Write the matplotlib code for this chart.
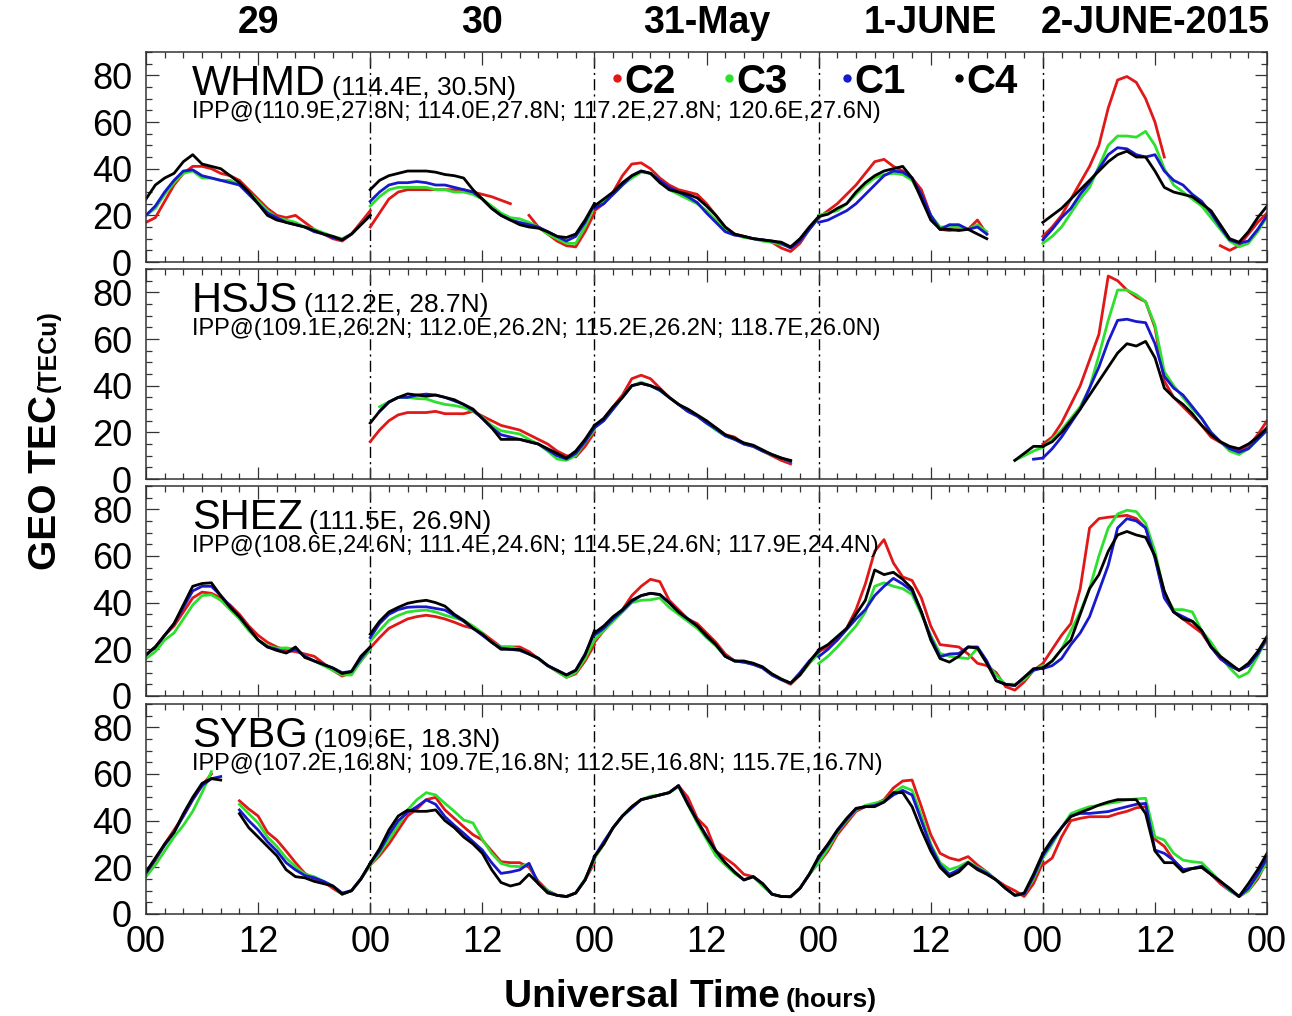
import numpy as np
import matplotlib
matplotlib.use("Agg")
import matplotlib.pyplot as plt
from matplotlib.ticker import MultipleLocator, FixedLocator
from matplotlib.transforms import offset_copy, blended_transform_factory

plt.rcParams["font.family"] = ["Liberation Sans", "DejaVu Sans"]

# ------------------------------------------------------------
# Data (GEO TEC, TECu), one row per UT day,
# sampled hourly 00..24 of that day; None = no data
# ------------------------------------------------------------
N = None
HOURS = np.arange(25)
DAY_LABELS = ["29", "30", "31-May", "1-JUNE", "2-JUNE-2015"]
TICK_LABELS = ["00", "12"] * 5 + ["00"]

STATIONS = ["WHMD", "HSJS", "SHEZ", "SYBG"]
COORDS = ["(114.4E, 30.5N)", "(112.2E, 28.7N)", "(111.5E, 26.9N)", "(109.6E, 18.3N)"]
IPP = [
    "IPP@(110.9E,27.8N; 114.0E,27.8N; 117.2E,27.8N; 120.6E,27.6N)",
    "IPP@(109.1E,26.2N; 112.0E,26.2N; 115.2E,26.2N; 118.7E,26.0N)",
    "IPP@(108.6E,24.6N; 111.4E,24.6N; 114.5E,24.6N; 117.9E,24.4N)",
    "IPP@(107.2E,16.8N; 109.7E,16.8N; 112.5E,16.8N; 115.7E,16.7N)",
]

# --- WHMD ---
WHMD_C2 = [
    [17, 19, 26, 33, 38, 41, 41, 40, 38, 37, 35, 31, 27, 23, 20, 19, 20, 17, 14, 12, 10, 9, 12, 17, 22],
    [15, 21, 27, 30, 31, 31, 31, 31, 31, 31, 31, 30, 29, 28, 26.5, 25, N, 20, 15, 12, 9, 7, 6.5, 13, 21],
    [22, 25, 30, 37, 42, 42.5, 40, 36, 33, 31, 30, 29, 25, 20, 15, 12, 11, 10, 9.5, 8.5, 6, 4.5, 8, 14, 19],
    [19, 22, 25, 29, 33, 38, 43, 44, 41, 39, 36, 31, 20, 14, 13.5, 14, 14, 18, 12, N, N, N, N, N, N],
    [11, 15, 20, 27, 34, 41, 50, 66, 78, 79.5, 77, 70, 60, 45, N, N, N, N, N, 7, 5, 7, 12, 17, 21],
]
WHMD_C3 = [
    [20, 23, 29, 34, 38, 39, 36, 36, 35, 35, 33, 30, 26, 22, 19, 18, 17, 15, 14, 12.5, 11, 10, 12, 16, 20],
    [24, 28, 31, 32, 32, 32, 32, 31, 31, 30, 30, 29, 27, 24, 21, 19, 18.5, 17, 15, 12, 10, 8, 8, 15, 24],
    [23, 26, 29, 33, 36, 38.5, 38, 35, 31, 29, 27, 25, 22, 18, 14, 12, 10.5, 10, 9, 8.5, 7.5, 6.5, 9, 14, 19],
    [20, 21, 22, 25, 29, 33, 36, 37.5, 38, 37.5, 35, 28, 20, 15, 15, 15, 14, 16, 13, N, N, N, N, N, N],
    [8, 11, 15, 21, 27, 32, 41, 50, 54, 54, 53.5, 56, 50, 40, 33, 30, 27, 24, 19, 14, 9, 6.5, 8, 13, 19.5],
]
WHMD_C1 = [
    [20, 24, 30, 35, 39, 39.5, 37, 36, 35, 34, 33, 29, 25, 21, 19, 17, 16, 15, 13, 12, 10.5, 9.5, 12, 16, 20],
    [26, 30, 33, 34, 34, 34.5, 34, 33, 33, 32, 31, 30, 27, 23, 20, 18, 17, 16, 15, 13, 11, 9, 11, 17, 25],
    [23, 25, 29, 33, 37, 39, 38, 35, 32, 30, 28, 25.5, 21, 17, 13, 11.5, 11, 10, 9.5, 9, 8, 6, 9, 14, 19],
    [17, 18, 20, 22, 25, 29, 33, 37, 39, 38.5, 36, 29, 20, 14, 16, 16, 14, 15, 12, N, N, N, N, N, N],
    [9.5, 14, 19, 23, 29, 34, 40, 46, 49, 48.5, 46, 45, 46, 39, 35, 33, 29, 26, 21, 15, 9.5, 8, 9, 14, 20],
]
WHMD_C4 = [
    [27, 33, 36, 38, 43, 46, 42, 41, 40, 37, 34, 30, 25, 20, 18, 17, 16, 15, 13.5, 12, 11, 9.5, 12, 16, 20],
    [31, 35, 37, 38, 39, 39, 39, 38.5, 37.5, 37, 36, 31, 27, 23, 20, 18, 16, 15, 14.5, 13, 11, 10.5, 12, 18, 25],
    [24, 27, 30, 34, 37, 39, 38, 34, 31, 30, 29, 27.5, 24, 20, 15, 12, 11, 10, 9.5, 9, 8.5, 6.5, 10, 15, 19.5],
    [19.5, 20.5, 23, 25, 30, 34, 37, 39, 40, 41, 36, 27, 18, 14, 14, 13.5, 14, 12, 10, N, N, N, N, N, N],
    [17, 20, 23, 27, 31, 35, 39, 43, 46, 47.5, 45, 45, 39, 32, 30, 29, 28, 25, 22, 16, 10, 8.5, 13, 19, 24],
]

# --- HSJS ---
HSJS_C2 = [
    [N] * 25,
    [16, 21, 25, 27.5, 28.5, 28.5, 28.5, 29, 28, 28, 28, 29, 27, 25, 23, 22, 21, 19, 17, 15, 12, 10, 9.5, 14, 20],
    [22, 26, 31, 36, 43, 44.5, 43, 39, 35, 32, 29, 27, 24, 22, 19, 18, 15, 14, 12, 10, 8, 6.5, N, N, N],
    [N] * 25,
    [15, 18, 24, 32, 40, 51, 62, 87, 85, 81, 78, 76, 65, 42, 35, 31, 27, 23, 18, 15.7, 13.5, 12, 14, 19, 25],
]
HSJS_C3 = [
    [N] * 25,
    [N, 31, 33, 35, 35, 34.5, 34.3, 33, 32, 31.5, 30.7, 29, 26.4, 23, 20.7, 20, 19.3, 17, 15, 12, 8.6, 8, 10, 15.7, 21],
    [22, 25, 30, 35, 40, 41.5, 40, 38, 35, 32, 29, 27, 24, 21, 18.5, 17, 15, 14, 12, 10.5, 9, 7.5, N, N, N],
    [N] * 21 + [8, 10, 12, 13.6],
    [13.6, 17, 21, 26, 31, 39, 53, 68, 81, 81, 79, 76, 66, 46, 40, 35, 30, 26, 20, 16, 12, 10.5, 13, 17, 21],
]
HSJS_C1 = [
    [N] * 25,
    [N, 29, 33, 35, 35, 36, 36.4, 36, 35, 33.5, 32, 29.5, 26, 22, 19, 18, 17, 16, 15, 12.5, 10, 8.6, 11, 16, 22],
    [22, 25, 30, 35, 40, 41, 40, 38, 35, 32, 29, 27, 24, 21.5, 18.5, 17, 15, 14, 12, 10.5, 9, 7.5, N, N, N],
    [N] * 23 + [8.5, 9],
    [9, 13, 18, 24, 30, 39, 48, 59, 68, 68.5, 67.5, 67, 58, 44, 39, 36, 31, 26, 20, 16, 13, 11.5, 13, 17, 21],
]
HSJS_C4 = [
    [N] * 25,
    [24, 29, 33, 35, 36.5, 36, 35.5, 36, 35, 34, 32, 30, 26, 22, 17, 17, 17, 16, 15, 13, 11, 9, 12, 17, 23],
    [23, 26, 31, 35, 40, 41, 40, 38.5, 35, 32, 30, 27.5, 25, 22, 19, 17.5, 15.5, 14.5, 12.5, 10.5, 9, 8, N, N, N],
    [N] * 21 + [8, 11, 14, 14],
    [14, 16, 20, 25, 30, 36, 42, 48, 54, 58, 57, 59, 52, 39, 35, 32, 28, 23, 19, 16, 14, 13, 15, 18, 22],
]

# --- SHEZ ---
SHEZ_C2 = [
    [17.6, 21, 26, 30, 36, 42, 44.5, 44, 42, 39, 35, 30, 26, 23, 21, 19.5, 19, 18, 17, 14, 11, 8.5, 10, 15, 20],
    [20.6, 25, 29, 31, 33, 34, 34.6, 34, 33, 31.6, 30, 29, 27, 24, 21, 21, 21, 19, 16, 13, 10.5, 8, 9.5, 15, 22],
    [23, 28, 33, 37, 43, 47, 50, 49, 41, 37, 33, 31, 27, 23, 18, 15, 14.5, 14, 12, 9, 7, 5, 9, 14, 19],
    [19, 21, 24, 29, 37, 48, 62, 67, 57, 51, 49.5, 42, 30, 22, 21.5, 21, 18, 14, 13, 10, 4, 2.5, 6, 11, 13.9],
    [13.9, 20, 26, 31, 46, 72, 76, 76.6, 77, 77.4, 76, 72, 60, 43, 36, 33, 30, 27, 21, 16, 13, 11, 13, 18, 24],
]
SHEZ_C3 = [
    [16, 19, 24, 27, 33, 39, 43, 43.4, 41, 37, 33, 28, 24, 21.5, 20.5, 20.6, 20, 17, 15, 13, 11, 9, 9, 15, 20],
    [23.5, 28, 32.4, 34.5, 36, 36.5, 36.8, 36, 34.6, 33.5, 32.4, 30, 27, 23, 21, 21, 20, 18, 16, 13, 10.5, 8, 10, 16, 24],
    [24, 28, 32, 36, 40, 41, 41.2, 42, 38, 35, 32, 29, 25, 21.5, 17, 15, 14.5, 13.5, 12, 9, 7, 5.5, 9, 14, 18],
    [13.9, 17, 21, 25.5, 30, 36, 47, 48.5, 47, 46, 43.5, 35, 26, 18.2, 17, 16.5, 16, 20.4, 14, 9, 5, 5, 7, 11, 13],
    [12, 15, 20, 28, 36, 46, 60, 72, 78, 79.6, 79, 74, 62, 44, 37, 37, 36, 28, 23, 17, 12, 8, 10, 17, 25],
]
SHEZ_C1 = [
    [17.6, 21, 26, 31, 38, 45, 47, 47, 43, 38.5, 34, 29, 24, 21, 20, 18.5, 20, 17, 15, 13.5, 12, 10, 10.5, 16, 21],
    [25, 31, 35, 37, 38, 38.2, 38.2, 37.5, 36.8, 34.5, 32, 29, 26, 23, 20.5, 20, 19.5, 18, 16, 13, 11, 9, 11, 18, 27],
    [26, 29, 33, 36.5, 40.5, 43, 44, 43.4, 40, 36, 33, 30, 25.5, 22, 17, 15, 14.5, 13.5, 12, 9, 7, 5.5, 10, 15, 19],
    [16.8, 20, 24, 28.5, 33, 37, 43, 47, 50.4, 48, 45, 36, 25, 16.8, 18, 18.2, 21, 21, 15, 6.6, 5, 4.5, 8, 11, 12],
    [11.7, 13, 16, 22, 27, 34, 45, 56, 72, 76, 75, 72, 59, 42, 36, 34, 32, 28, 21, 16, 13, 11, 13, 18, 25],
]
SHEZ_C4 = [
    [17.6, 21, 26, 31, 39, 47, 48.2, 48.5, 43, 38, 34, 29, 24, 21, 19.5, 18.4, 21, 16.5, 15, 13.5, 12, 9.6, 10.5, 17, 21],
    [26.5, 32, 36, 38, 39.7, 40.5, 41, 40, 38.5, 35, 32.4, 29, 26.5, 23, 20, 20, 19.9, 18, 16.2, 13, 11, 9, 11, 17.6, 27.9],
    [27, 30, 34, 37, 41, 43, 44, 43.5, 40, 36, 33, 30, 26, 22, 17, 15, 15, 14, 12.5, 9.5, 7.3, 5.5, 9, 14.5, 19.7],
    [19.7, 22, 25.5, 29, 35, 41, 54, 52, 53, 50, 46, 36, 24, 16, 14.5, 17, 21, 20.5, 14, 6.5, 5, 4.5, 8, 11.7, 12],
    [12, 15, 20, 24, 35, 46, 52, 62, 69, 70.5, 69, 68, 60, 45, 36, 33, 32, 28, 21, 17, 14, 11, 14, 19, 25.5],
]

# --- SYBG ---
SYBG_C2 = [
    [17, 23, 30, 36, 42, 49, 55, 60, N, N, 48.5, 45, 42, 35, 31.7, 27, 22, 17.4, 15, 13.9, 11, 8.5, 10, 15, 21],
    [21, 25, 30, 36, 42, 45, 49, 50, 44.6, 41, 37.4, 34, 31.7, 27, 22.4, 22, 22, 20, 14, 10, 8, 7.5, 9, 14.6, 22],
    [24, 30, 37, 42, 46, 49, 50, 51, 52, 55, 50, 41, 37, 27, 24, 21, 17, 16, 13, 8.5, 7.5, 7.4, 11, 17, 22],
    [21.7, 27, 34, 39, 44, 46, 47, 49, 54, 57, 57.4, 46, 34, 26, 24, 23, 24.6, 21, 18, 14.6, 12, 10, 7.5, 13, 22],
    [21, 24, 33, 40, 41, 41.7, 41.7, 41.7, 43, 44, 45.5, 46, 32, 29, 23, 19, 19.5, 20, 17, 13, 10, 7.5, 10, 15, 23],
]
SYBG_C3 = [
    [16, 21, 27, 33, 38, 44, 52, 61, N, N, 47, 43, 39, 33, 29, 24, 20.3, 17, 16, 14, 12, 8.5, 10, 15, 21],
    [21, 26, 32, 38, 44.6, 49, 52, 51, 47.4, 44, 40.3, 39, 32, 26, 21.7, 20.5, 20.3, 21.5, 13, 10, 8, 7.4, 9, 15, 23],
    [24, 30, 37, 42, 45.5, 49, 50.5, 51, 52, 54.5, 47, 39, 32, 25, 21, 17.4, 14.6, 16, 12, 8.5, 7.5, 7.4, 11, 17, 22],
    [22, 28, 35, 40, 44.5, 46.5, 47.5, 48.5, 52, 54.6, 53, 42, 30, 22, 19, 20.3, 22.4, 20, 18, 14.6, 11, 8, 8.5, 15, 24],
    [24, 30, 37, 43, 44.6, 46, 46.5, 47.4, 48, 48.9, 49.3, 49.6, 33.1, 31.7, 26, 23.1, 22.4, 22, 18, 14, 10, 7.5, 10, 16, 22],
]
SYBG_C1 = [
    [17.5, 23.5, 29.5, 35, 42, 49, 55, 58, 58.9, N, 44.6, 40, 36, 31, 27, 22, 18.9, 16.5, 15.5, 14, 12, 9, 10, 15, 21.7],
    [21.7, 27, 34, 40, 43.5, 46, 48.9, 47, 41.7, 38, 34.6, 31, 27.4, 22, 17.4, 18, 18.9, 21.7, 13, 9.5, 8, 7.4, 9, 14.6, 24],
    [24.6, 31, 37, 42, 45.5, 49, 50, 51, 52, 55, 47.5, 40, 33.5, 27, 22, 18, 14.6, 16, 13, 8.5, 7.5, 7.4, 11, 17, 24],
    [24, 29.5, 35.5, 40.5, 45, 46, 46.5, 48, 51, 53, 51, 40, 29, 21, 17, 19, 22, 19.5, 17.5, 14.6, 11, 8, 8.5, 16, 25],
    [25, 31, 37, 42, 43.1, 43.1, 43.5, 43.9, 45, 46, 47, 47.4, 27.4, 26, 23, 19, 19.5, 20.5, 17, 14, 10.5, 7.5, 11, 17, 24],
]
SYBG_C4 = [
    [18, 24, 30, 35, 43, 50, 56, 58, 57.4, N, 43, 37, 33, 29, 25, 19, 16, 15.5, 14, 13, 12, 8.5, 10, 15, 21.7],
    [21.7, 28, 36, 42, 44.5, 44, 44, 44.6, 40, 37, 33, 30, 26, 19, 13.5, 12, 13, 17, 13, 9, 8, 7.5, 9, 14.6, 24.6],
    [24.6, 30, 37, 42, 46, 49, 50, 51, 52, 55, 47, 40, 33, 27, 22, 18, 14.6, 16, 13, 8.5, 7.5, 7.4, 11, 17, 24.6],
    [24.6, 30, 36, 41, 45.3, 46, 46, 48, 52, 52, 46, 36, 27, 20, 16, 18, 22, 19, 17, 14.6, 11, 8, 9, 17, 26],
    [26, 32, 37, 41.7, 43.5, 45, 46.7, 48, 49, 49, 49, 43, 27, 22, 22, 18, 19.5, 20, 17, 14, 11, 7.5, 13, 19, 26],
]

PANELS = [
    [WHMD_C2, WHMD_C3, WHMD_C1, WHMD_C4],
    [HSJS_C2, HSJS_C3, HSJS_C1, HSJS_C4],
    [SHEZ_C2, SHEZ_C3, SHEZ_C1, SHEZ_C4],
    [SYBG_C2, SYBG_C3, SYBG_C1, SYBG_C4],
]
SATS = ["C2", "C3", "C1", "C4"]
SAT_COLORS = ["#e01818", "#2ee02e", "#1818cc", "#000000"]

# ------------------------------------------------------------
# Figure
# ------------------------------------------------------------
fig = plt.figure(figsize=(12.92, 10.16), dpi=100, facecolor="white")

LEFT, WIDTH, HEIGHT = 0.113, 0.8677, 0.2067
BOTTOMS = [0.7421, 0.5285, 0.3150, 0.1004]

renderer = fig.canvas.get_renderer()

for i, (station, series) in enumerate(zip(STATIONS, PANELS)):
    ax = fig.add_axes([LEFT, BOTTOMS[i], WIDTH, HEIGHT])

    for d in range(1, 5):
        ax.axvline(24 * d, color="black", lw=1.0, ls=(0, (8, 3, 1.5, 3)), zorder=1)

    for vals, col in zip(series, SAT_COLORS):
        arr = np.array(vals, dtype=float)
        for d in range(5):
            ax.plot(24 * d + HOURS, arr[d], color=col, lw=2.0, zorder=2)

    ax.set_xlim(0, 120)
    ax.set_ylim(0, 90)
    ax.xaxis.set_major_locator(FixedLocator(np.arange(0, 121, 12)))
    ax.xaxis.set_minor_locator(MultipleLocator(2))
    ax.yaxis.set_major_locator(FixedLocator([0, 20, 40, 60, 80]))
    ax.yaxis.set_minor_locator(MultipleLocator(5))
    ax.tick_params(which="both", direction="in", top=True, right=True, width=0.9,
                   color="#333333", labelsize=26)
    ax.tick_params(which="major", length=9)
    ax.tick_params(which="minor", length=4.5)
    ax.tick_params(axis="y", pad=10)
    ax.tick_params(axis="x", pad=8)
    for sp in ax.spines.values():
        sp.set_linewidth(1.1)
        sp.set_color("#333333")

    if i == 3:
        ax.set_xticklabels(TICK_LABELS)
    else:
        ax.set_xticklabels([])

    # station name + coordinates
    t_name = ax.text(0.041, 0.795, station, transform=ax.transAxes,
                     fontsize=30, va="baseline", ha="left")
    bb = t_name.get_window_extent(renderer)
    ax.text(0.041, 0.795, COORDS[i],
            transform=offset_copy(ax.transAxes, fig=fig, x=bb.width + 6, units="dots"),
            fontsize=19, va="baseline", ha="left")
    ax.text(0.041, 0.686, IPP[i], transform=ax.transAxes, fontsize=17,
            va="baseline", ha="left")

    if i == 0:
        trans = blended_transform_factory(ax.transData, ax.transAxes)
        for d, lab in enumerate(DAY_LABELS):
            ax.text(12 + 24 * d, 1.09, lab, transform=trans, fontsize=27,
                    fontweight="bold", ha="center", va="baseline")
        # legend of satellites
        for x0, lab, col in zip([0.420, 0.520, 0.625, 0.725], SATS, SAT_COLORS):
            ax.plot([x0], [0.876], "o", ms=5, color=col, transform=ax.transAxes,
                    clip_on=False, zorder=5)
            ax.text(x0 + 0.0065, 0.805, lab, transform=ax.transAxes, fontsize=29,
                    fontweight="bold", ha="left", va="baseline")

# axis titles
fig.text(56 / 1292, (1016 - 570) / 1016, "GEO TEC", rotation=90, rotation_mode="anchor",
         ha="left", va="baseline", fontsize=28, fontweight="bold")
fig.text(56 / 1292, (1016 - 392) / 1016, "(TECu)", rotation=90, rotation_mode="anchor",
         ha="left", va="baseline", fontsize=18, fontweight="bold")
fig.text(780 / 1292, (1016 - 1007) / 1016, "Universal Time", ha="right", va="baseline",
         fontsize=28, fontweight="bold")
fig.text(786 / 1292, (1016 - 1007) / 1016, "(hours)", ha="left", va="baseline",
         fontsize=19, fontweight="bold")

fig.savefig("out.png", dpi=100, facecolor="white")
